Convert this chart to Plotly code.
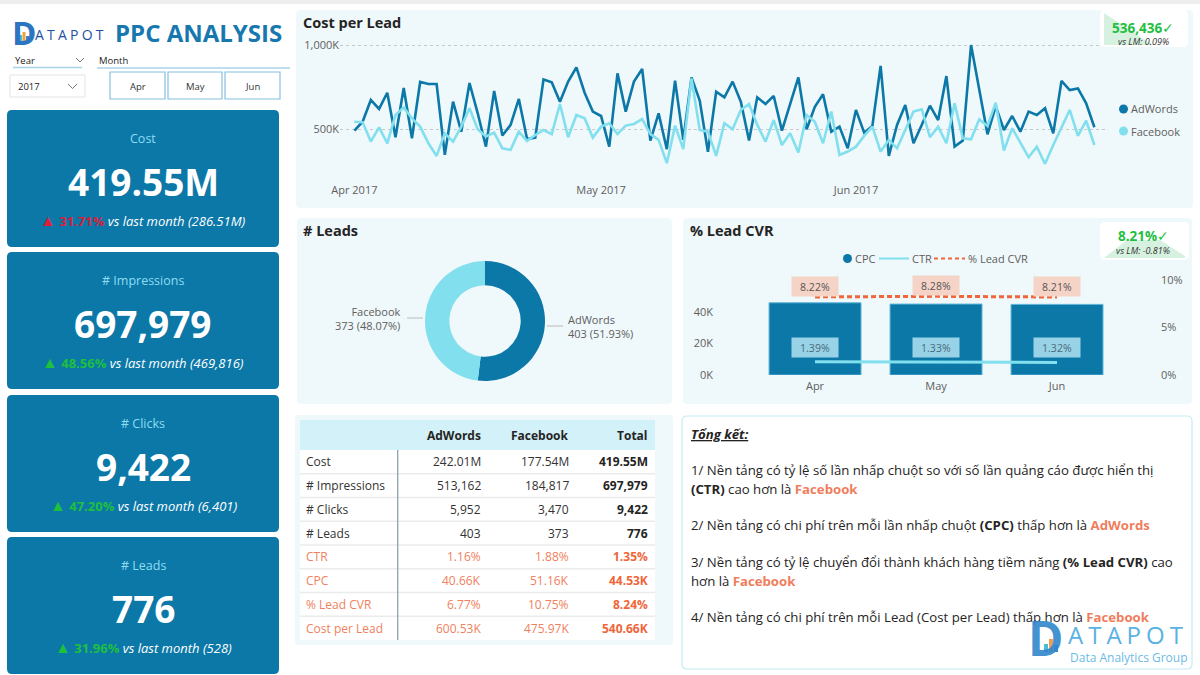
import plotly.graph_objects as go
import pandas as pd

W, H = 1200, 675
def X(x): return x / W
def Y(y): return 1 - y / H

FONT = "Open Sans, Segoe UI, sans-serif"
TXT = "#252423"
GREY = "#605e5c"
BLUE = "#0b78a8"
CYAN = "#82dfee"
PANEL = "#eff8fb"
ORANGE = "#f0663a"
SALMON = "#f07f5e"
GREEN = "#1fbf3f"
RED = "#d9203c"

# ------------------------------------------------------------------ data
kpi_titles = ["Cost", "# Impressions", "# Clicks", "# Leads"]
kpi_values = ["419.55M", "697,979", "9,422", "776"]
kpi_changes = ["31.71%", "48.56%", "47.20%", "31.96%"]
kpi_prev = ["286.51M", "469,816", "6,401", "528"]
kpi_is_bad = [True, False, False, False]

year_options = ["2017"]
months = ["Apr", "May", "Jun"]

dates = pd.date_range("2017-04-01", "2017-06-30", freq="D")
cpl_adwords = [492, 545, 674, 621, 717, 453, 745, 447, 781, 769,
               769, 348, 664, 486, 775, 595, 397, 727, 463, 526,
               680, 443, 451, 796, 779, 664, 783, 868, 717, 605,
               579, 397, 832, 605, 783, 858, 433, 595, 382, 789,
               437, 808, 670, 366, 723, 690, 783, 664, 433, 690,
               650, 698, 492, 650, 808, 500, 634, 708, 486, 516,
               387, 615, 480, 520, 876, 342, 526, 644, 417, 526,
               640, 555, 816, 397, 433, 1000, 733, 470, 638, 496,
               579, 486, 605, 585, 625, 476, 787, 733, 743, 654,
               512]
cpl_facebook = [545, 542, 427, 512, 417, 585, 630, 565, 516, 417,
                342, 476, 427, 516, 625, 500, 457, 480, 387, 378,
                486, 431, 466, 496, 472, 650, 453, 585, 565, 451,
                516, 536, 472, 522, 532, 561, 472, 437, 299, 522,
                382, 802, 496, 486, 342, 536, 500, 615, 650, 526,
                427, 555, 407, 476, 362, 585, 545, 417, 605, 348,
                368, 397, 461, 516, 368, 437, 387, 492, 605, 619,
                453, 516, 417, 654, 447, 441, 559, 520, 658, 374,
                506, 421, 334, 397, 295, 407, 516, 615, 461, 551,
                407]
cpl_tickvals = [500, 1000]
cpl_ticktext = ["500K", "1,000K"]
cpl_month_ticks = ["2017-04-01", "2017-05-01", "2017-06-01"]
cpl_kpi = "536,436"
cpl_vs_lm = "0.09%"

platforms = ["AdWords", "Facebook"]
leads = [403, 373]

cpc_k = [45.6, 44.8, 44.6]
ctr_pct = [1.39, 1.33, 1.32]
cvr_pct = [8.22, 8.28, 8.21]
cpc_tickvals = [0, 20, 40]
cpc_ticktext = ["0K", "20K", "40K"]
pct_tickvals = [0, 5, 10]
pct_ticktext = ["0%", "5%", "10%"]
cvr_kpi = "8.21%"
cvr_vs_lm = "-0.81%"

table_header = ["", "AdWords", "Facebook", "Total"]
table_rows = ["Cost", "# Impressions", "# Clicks", "# Leads", "CTR", "CPC", "% Lead CVR", "Cost per Lead"]
table_adwords = ["242.01M", "513,162", "5,952", "403", "1.16%", "40.66K", "6.77%", "600.53K"]
table_facebook = ["177.54M", "184,817", "3,470", "373", "1.88%", "51.16K", "10.75%", "475.97K"]
table_total = ["419.55M", "697,979", "9,422", "776", "1.35%", "44.53K", "8.24%", "540.66K"]

summary_title = "Tổng kết:"
summary_lines = [
    "1/ Nền tảng có tỷ lệ số lần nhấp chuột so với số lần quảng cáo được hiển thị",
    "<b>(CTR)</b> cao hơn là {hl:Facebook}",
    "2/ Nền tảng có chi phí trên mỗi lần nhấp chuột <b>(CPC)</b> thấp hơn là {hl:AdWords}",
    "3/ Nền tảng có tỷ lệ chuyển đổi thành khách hàng tiềm năng <b>(% Lead CVR)</b> cao",
    "hơn là {hl:Facebook}",
    "4/ Nền tảng có chi phí trên mỗi Lead (Cost per Lead) thấp hơn là {hl:Facebook}",
]
summary_y = [470, 488.5, 525, 561.5, 580.5, 616.5]

# ------------------------------------------------------------------ helpers
shapes, ann = [], []

def rrect_path(x0, y0, x1, y1, r):
    return " ".join([
        f"M{X(x0 + r)},{Y(y0)}", f"L{X(x1 - r)},{Y(y0)}",
        f"Q{X(x1)},{Y(y0)} {X(x1)},{Y(y0 + r)}", f"L{X(x1)},{Y(y1 - r)}",
        f"Q{X(x1)},{Y(y1)} {X(x1 - r)},{Y(y1)}", f"L{X(x0 + r)},{Y(y1)}",
        f"Q{X(x0)},{Y(y1)} {X(x0)},{Y(y1 - r)}", f"L{X(x0)},{Y(y0 + r)}",
        f"Q{X(x0)},{Y(y0)} {X(x0 + r)},{Y(y0)}", "Z"])

def rect(x0, y0, x1, y1, fill, line=None, lw=1, r=0, layer="below"):
    ln = dict(color=line, width=lw) if line else dict(width=0, color="rgba(0,0,0,0)")
    if r:
        shapes.append(dict(type="path", path=rrect_path(x0, y0, x1, y1, r), xref="paper",
                           yref="paper", fillcolor=fill, line=ln, layer=layer))
    else:
        shapes.append(dict(type="rect", xref="paper", yref="paper", x0=X(x0), x1=X(x1),
                           y0=Y(y1), y1=Y(y0), fillcolor=fill, line=ln, layer=layer))

def seg(x0, y0, x1, y1, color, width=1, dash="solid", layer="above"):
    shapes.append(dict(type="line", xref="paper", yref="paper", x0=X(x0), y0=Y(y0),
                       x1=X(x1), y1=Y(y1), line=dict(color=color, width=width, dash=dash),
                       layer=layer))

def poly(points, fill=None, line=None, lw=1, closed=True, layer="above"):
    p = " ".join(("M" if i == 0 else "L") + f"{X(a)},{Y(b)}" for i, (a, b) in enumerate(points))
    if closed:
        p += " Z"
    shapes.append(dict(type="path", path=p, xref="paper", yref="paper",
                       fillcolor=fill if fill else "rgba(0,0,0,0)",
                       line=dict(color=line, width=lw) if line else dict(width=0, color="rgba(0,0,0,0)"),
                       layer=layer))

def circle(cx, cy, r, fill):
    shapes.append(dict(type="circle", xref="paper", yref="paper", x0=X(cx - r), x1=X(cx + r),
                       y0=Y(cy + r), y1=Y(cy - r), fillcolor=fill, line=dict(width=0), layer="above"))

def text(x, y, s, size=11, color=TXT, anchor="left", valign="middle", **kw):
    ann.append(dict(xref="paper", yref="paper", x=X(x), y=Y(y), text=s, showarrow=False,
                    xanchor=anchor, yanchor=valign, align=anchor if anchor != "center" else "center",
                    font=dict(family=FONT, size=size, color=color), **kw))

# ------------------------------------------------------------------ page / panels
rect(0, 0, 1200, 4, "#eeeeee")
rect(296, 10, 1193, 208, PANEL, r=4)
rect(297, 218, 672, 404, PANEL, r=4)
rect(683, 218, 1192, 404, PANEL, r=4)
rect(295, 415, 673, 645, PANEL, r=4)
rect(682, 416, 1192, 669, "white", line="#c4ebf4", lw=1.2, r=5)

# ------------------------------------------------------------------ header: logo + title
text(10, 33, "<b>D</b>", size=33, color="#2c75c0")
for (bx0, bh, bc) in [(19, 6, "#46bcd8"), (22.5, 9, "#f0a23c"), (26, 5, "#3a86cf")]:
    rect(bx0, 41 - bh, bx0 + 3, 41, bc, layer="above")
text(33, 34, '<span style="letter-spacing:3.2px">ATAPOT</span>', size=14, color="#1e50a0")
text(113, 32, "<b>PPC ANALYSIS</b>", size=24, color="#1778b0")

# slicers
text(13, 61, "Year", size=9.5, color=TXT)
poly([(76, 58), (80, 62), (84, 58)], line="#777777", lw=1, closed=False)
seg(13, 67.5, 82, 67.5, "#a9d3e8", 1.5)
rect(10, 75, 85, 97, "white", line="#e3e3e3", lw=1, layer="below")
text(16, 87, year_options[0], size=9.5, color=TXT)
poly([(68, 84), (72.5, 88.5), (77, 84)], line="#777777", lw=1, closed=False)
text(97, 61, "Month", size=9.5, color=TXT)
seg(97, 68, 290, 68, "#a9d3e8", 1.5)
btn_x = [(110, 165), (168, 222), (225, 280)]
for (bx0, bx1), m in zip(btn_x, months):
    rect(bx0, 72, bx1, 99, "white", line="#86c0de", lw=1.2, layer="below")
    text((bx0 + bx1) / 2, 86, m, size=9.5, color="#333333", anchor="center")

# ------------------------------------------------------------------ KPI cards
card_tops = [110, 252, 395, 537]
for top, t, v, c, p, bad in zip(card_tops, kpi_titles, kpi_values, kpi_changes, kpi_prev, kpi_is_bad):
    rect(7, top, 279, top + 137, BLUE, r=5)
    text(143, top + 28.5, t, size=12.5, color="#8fdcf2", anchor="center")
    text(143, top + 71, f"<b>{v}</b>", size=37, color="white", anchor="center")
    col = RED if bad else GREEN
    text(143, top + 109.5,
         f"<span style='color:{col};font-size:16px'>▲</span>"
         f"<span style='color:{col}'><b> {c}</b></span><i> vs last month ({p})</i>",
         size=13, color="white", anchor="center")

# ------------------------------------------------------------------ Cost per Lead line chart
text(301, 22, "<b>Cost per Lead</b>", size=14.5, color=TXT)
traces = []
traces.append(go.Scatter(x=dates, y=cpl_adwords, mode="lines", name="AdWords",
                         line=dict(color=BLUE, width=2.6), xaxis="x", yaxis="y"))
traces.append(go.Scatter(x=dates, y=cpl_facebook, mode="lines", name="Facebook",
                         line=dict(color=CYAN, width=2.6), xaxis="x", yaxis="y"))
for i, (name, col) in enumerate(zip(platforms, [BLUE, CYAN])):
    cy = 109 + 22 * i
    circle(1123.5, cy, 4.5, col)
    text(1129, cy, name, size=11, color=GREY)

# mini kpi
rect(1100, 10, 1188, 47, "white", r=5, layer="above")
poly([(1104, 13), (1153, 45), (1104, 45)], fill="rgba(70,190,110,0.22)")
text(1143, 27.5, f"<b>{cpl_kpi}</b>✓", size=13.5, color=GREEN, anchor="center")
text(1143, 41.5, f"<i>vs LM: {cpl_vs_lm}</i>", size=9, color="#333333", anchor="center")

# ------------------------------------------------------------------ # Leads donut
text(301, 230, "<b># Leads</b>", size=14.5, color=TXT)
traces.append(go.Pie(labels=platforms, values=leads, hole=0.595, sort=False,
                     direction="clockwise", rotation=0, textinfo="none",
                     marker=dict(colors=[BLUE, CYAN], line=dict(width=0)),
                     domain=dict(x=[X(425), X(545)], y=[Y(381), Y(261)]), showlegend=False))
tot = sum(leads)
seg(547, 326, 563, 326, "#bbbbbb", 1)
text(566, 326.5, f"{platforms[0]}<br>{leads[0]} ({leads[0] / tot * 100:.2f}%)", size=11,
     color=GREY, anchor="left")
seg(407, 318, 423, 318, "#bbbbbb", 1)
text(403, 318.5, f"{platforms[1]}<br>{leads[1]} ({leads[1] / tot * 100:.2f}%)", size=11,
     color=GREY, anchor="right")

# ------------------------------------------------------------------ % Lead CVR combo chart
text(688, 230, "<b>% Lead CVR</b>", size=14.5, color=TXT)
traces.append(go.Bar(x=months, y=cpc_k, name="CPC",
                     marker=dict(color=BLUE, line=dict(color="#5fb4d8", width=1)),
                     xaxis="x2", yaxis="y3"))
traces.append(go.Scatter(x=months, y=ctr_pct, name="CTR", mode="lines",
                         line=dict(color=CYAN, width=3), xaxis="x2", yaxis="y4"))
traces.append(go.Scatter(x=months, y=cvr_pct, name="% Lead CVR", mode="lines",
                         line=dict(color=ORANGE, width=3, dash="5px,3px"), xaxis="x2", yaxis="y4"))
for m, v in zip(months, cvr_pct):
    ann.append(dict(xref="x2", yref="y4", x=m, y=v, yshift=10.5, text=f"{v:.2f}%", showarrow=False,
                    bgcolor="#f6d3c7", width=44, height=17,
                    font=dict(family=FONT, size=10.5, color="#555555")))
for m, v in zip(months, ctr_pct):
    ann.append(dict(xref="x2", yref="y4", x=m, y=v, yshift=14.5, text=f"{v:.2f}%", showarrow=False,
                    bgcolor="#98d2e6", width=44, height=17,
                    font=dict(family=FONT, size=10.5, color="#4a6a78")))
# legend
circle(847.5, 258.5, 4.5, BLUE)
text(853, 258.5, "CPC", size=11, color=GREY)
seg(879, 258.5, 909, 258.5, CYAN, 2)
text(910, 258.5, "CTR", size=11, color=GREY)
seg(934, 258.5, 965, 258.5, ORANGE, 2, dash="4px,3px")
text(966, 258.5, "% Lead CVR", size=11, color=GREY)
# mini kpi
rect(1100, 222, 1189, 260, "white", r=5, layer="above")
poly([(1104, 258), (1127, 240), (1160, 240), (1185, 256), (1185, 258)], fill="rgba(70,190,110,0.22)")
text(1143, 235.5, f"<b>{cvr_kpi}</b>✓", size=13.5, color=GREEN, anchor="center")
text(1143, 250.5, f"<i>vs LM: {cvr_vs_lm}</i>", size=9, color="#333333", anchor="center")

# ------------------------------------------------------------------ table (drawn cell by cell)
T_X0, T_X1, T_Y0, HDR_H, ROW_H = 300, 655, 420, 30, 23.75
col_right = [None, 483, 571, 650]
n = len(table_rows)
rect(T_X0, T_Y0, T_X1, T_Y0 + HDR_H, "#d3f1f8")
rect(T_X0, T_Y0 + HDR_H, T_X1, T_Y0 + HDR_H + n * ROW_H, "white")
for j, h in enumerate(table_header):
    if h:
        text(col_right[j], T_Y0 + HDR_H / 2, f"<b>{h}</b>", size=12, color=TXT, anchor="right")
for i in range(n):
    yc = T_Y0 + HDR_H + ROW_H * (i + 0.5)
    col = "#333333" if i < 4 else SALMON
    tcol = TXT if i < 4 else ORANGE
    text(304, yc, table_rows[i], size=12, color=col)
    text(col_right[1], yc, table_adwords[i], size=12, color=col, anchor="right")
    text(col_right[2], yc, table_facebook[i], size=12, color=col, anchor="right")
    text(col_right[3], yc, f"<b>{table_total[i]}</b>", size=12, color=tcol, anchor="right")
    if i > 0:
        yl = T_Y0 + HDR_H + ROW_H * i
        seg(T_X0, yl, T_X1, yl, "#ebebeb", 1.5, layer="below")
seg(397.7, T_Y0 + HDR_H, 397.7, T_Y0 + HDR_H + n * ROW_H, "#8ea3b0", 1.3)

# ------------------------------------------------------------------ summary text
text(689, 433.5, f"<b><i><u>{summary_title}</u></i></b>", size=13.2, color=TXT)
for s, yy in zip(summary_lines, summary_y):
    s2 = s
    for word in platforms:
        s2 = s2.replace("{hl:" + word + "}", f"<span style='color:#f07d5c'><b>{word}</b></span>")
    text(689, yy, s2, size=13.2, color=TXT)

# watermark logo
text(1026, 637, "<b>D</b>", size=48, color="rgba(50,135,205,0.92)")
for (bx0, bh, bc) in [(1044, 8, "#46bcd8"), (1049, 13, "#f0a23c"), (1054, 7, "#3a86cf")]:
    rect(bx0, 652 - bh, bx0 + 4, 652, bc, layer="above")
text(1066, 634, '<span style="letter-spacing:5px">ATAPOT</span>', size=24, color="#5ab2e2")
text(1190, 657.5, "Data Analytics Group", size=12, color="#6cbbe6", anchor="right")

# ------------------------------------------------------------------ figure
axis_common = dict(automargin=False, zeroline=False, ticks="", tickfont=dict(size=11, color=GREY))
fig = go.Figure(traces)
fig.update_layout(
    width=W, height=H, margin=dict(l=0, r=0, t=0, b=0, pad=0, autoexpand=False), autosize=False,
    paper_bgcolor="white", plot_bgcolor="rgba(0,0,0,0)",
    showlegend=False, font=dict(family=FONT, color=GREY), bargap=0.24,
    shapes=shapes, annotations=ann,
    xaxis=dict(domain=[X(340), X(1105)], type="date",
               range=["2017-03-30 06:00", "2017-07-01 07:00"],
               tickvals=cpl_month_ticks, tickformat="%b %Y", ticklabelstandoff=4,
               showgrid=False, showline=False, anchor="y", **axis_common),
    yaxis=dict(domain=[Y(178), Y(40)], range=[211, 1030], tickvals=cpl_tickvals,
               ticktext=cpl_ticktext, showgrid=True, gridcolor="#c9c9c9",
               griddash="dot", gridwidth=1, anchor="x", **axis_common),
    xaxis2=dict(domain=[X(714), X(1160)], type="category", range=[-0.835, 2.851],
                ticklabelstandoff=3, showgrid=False, anchor="y3", **axis_common),
    yaxis3=dict(domain=[Y(375), Y(280)], range=[0, 60], tickvals=cpc_tickvals,
                ticktext=cpc_ticktext, showgrid=False, anchor="x2", **axis_common),
    yaxis4=dict(domain=[Y(375), Y(280)], range=[0, 10], tickvals=pct_tickvals,
                ticktext=pct_ticktext, showgrid=False, anchor="x2",
                overlaying="y3", side="right", **axis_common),
)
fig.write_html("out.html", config=dict(displayModeBar=False))
